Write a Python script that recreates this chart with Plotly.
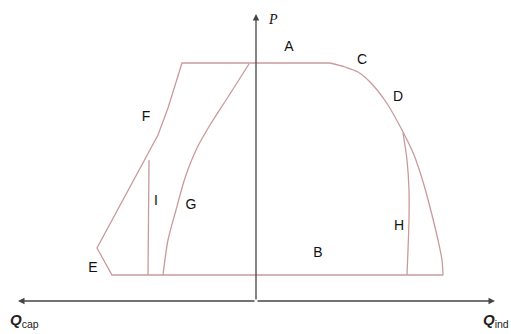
import plotly.graph_objects as go

# capability outline (screen-like coords: x right, y down)
straight_x = [443, 112, 97, 145, 158, 168, 182, 330]
straight_y = [275, 275, 248, 160, 135, 108, 63, 63]

arc_x = [330, 345, 358, 370, 386, 402, 414, 424, 432, 438, 442, 443]
arc_y = [63, 67, 72, 82, 102, 130, 155, 185, 215, 240, 260, 275]

curve_g_x = [249, 228, 210, 197, 185, 176, 168, 163]
curve_g_y = [64, 97, 125, 148, 178, 210, 240, 275]

line_i_x = [149, 148]
line_i_y = [160, 275]

curve_h_x = [403, 407, 409, 409, 408, 407]
curve_h_y = [133, 160, 190, 220, 250, 275]

labels = ["A", "C", "D", "F", "I", "G", "H", "B", "E"]
label_x = [289, 362, 398, 146, 156, 191, 399, 318, 93]
label_y = [47, 60, 97, 117, 201, 205, 226, 253, 268]

pink = "#c99a9c"
axis_col = "#444444"

fig = go.Figure()
for xs, ys, shp in [(straight_x, straight_y, "linear"), (arc_x, arc_y, "spline"),
                    (curve_g_x, curve_g_y, "spline"), (line_i_x, line_i_y, "linear"),
                    (curve_h_x, curve_h_y, "spline")]:
    fig.add_trace(go.Scatter(x=xs, y=ys, mode="lines",
                             line=dict(color=pink, width=1.3, shape=shp, smoothing=0.8),
                             showlegend=False, hoverinfo="skip"))

fig.add_trace(go.Scatter(x=label_x, y=label_y, mode="text", text=labels,
                         textfont=dict(family="Liberation Sans", size=14, color="#111"),
                         showlegend=False, hoverinfo="skip"))

# axes with arrows
ax_arrow = dict(xref="x", yref="y", axref="x", ayref="y", showarrow=True,
                arrowhead=2, arrowsize=1, arrowwidth=1.3, arrowcolor=axis_col, text="")
fig.add_annotation(x=18, y=301, ax=256, ay=301, **ax_arrow)
fig.add_annotation(x=495, y=301, ax=256, ay=301, **ax_arrow)
fig.add_annotation(x=256, y=14, ax=256, ay=301, **ax_arrow)

fig.add_annotation(x=273, y=19, text="<i>P</i>", showarrow=False,
                   font=dict(family="Liberation Serif", size=14, color="#111"))
fig.add_annotation(x=8, y=320, xanchor="left", text="<b><i>Q</i></b><sub>cap</sub>", showarrow=False,
                   font=dict(family="Liberation Sans", size=15, color="#222"))
fig.add_annotation(x=481, y=320, xanchor="left", text="<b><i>Q</i></b><sub>ind</sub>", showarrow=False,
                   font=dict(family="Liberation Sans", size=15, color="#222"))

fig.update_layout(
    width=511, height=334,
    margin=dict(l=0, r=0, t=0, b=0),
    plot_bgcolor="white", paper_bgcolor="white",
    xaxis=dict(range=[0, 511], visible=False, fixedrange=True),
    yaxis=dict(range=[334, 0], visible=False, fixedrange=True),
)

fig.write_html("out.html", config={"displayModeBar": False},
               post_script="document.body.style.margin='0';")
